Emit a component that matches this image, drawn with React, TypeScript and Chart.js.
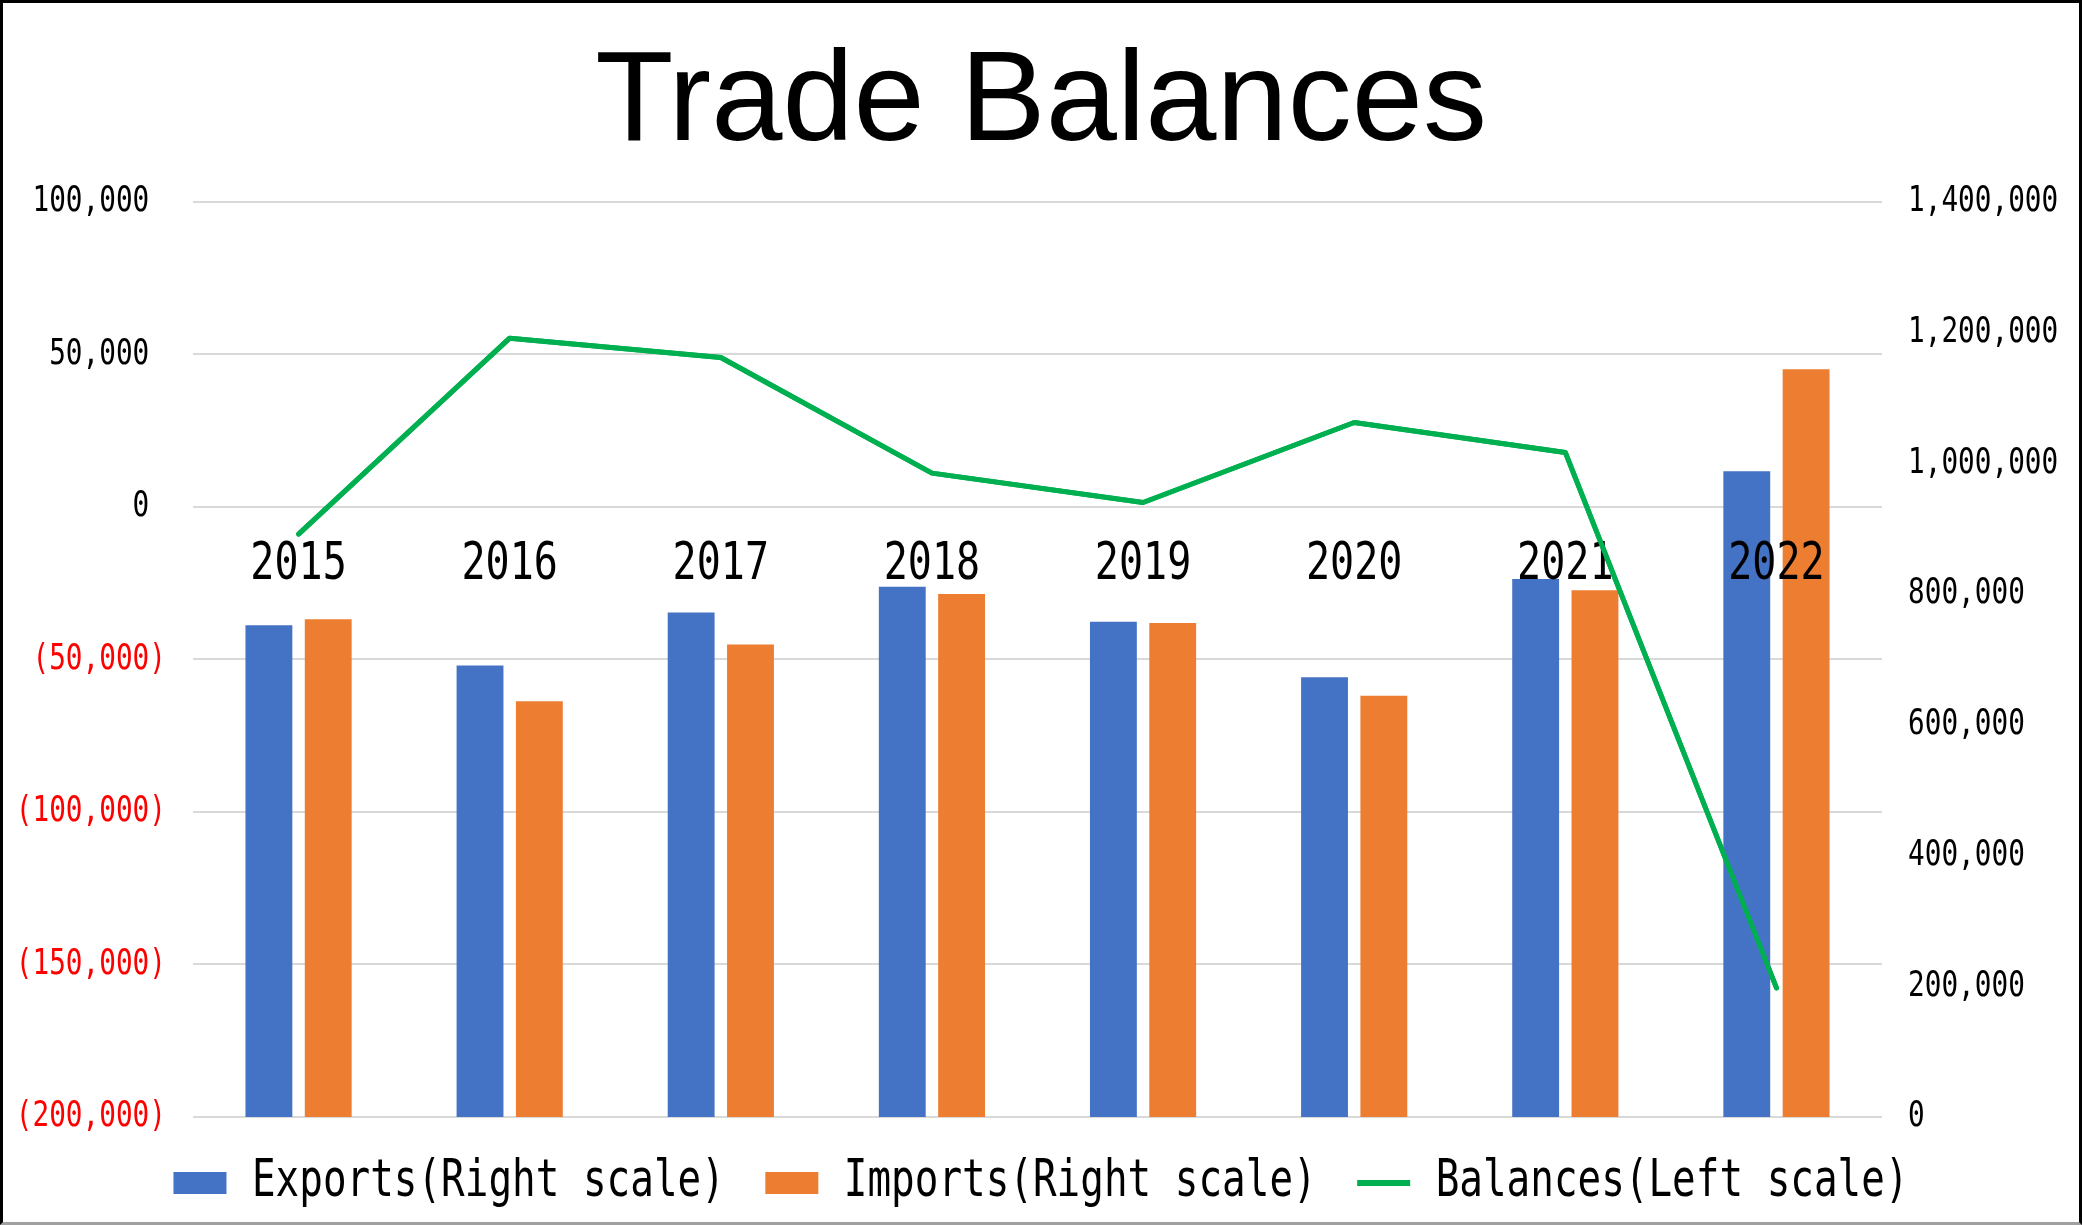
import React, { useEffect, useRef } from 'react';
import { Chart, registerables } from 'chart.js';

Chart.register(...registerables);

// ---- data ----
const categories = ['2015', '2016', '2017', '2018', '2019', '2020', '2021', '2022'];
const exportsValues = [752100, 690400, 771600, 810900, 757400, 672500, 822900, 987700];
const importsValues = [761300, 635700, 722700, 799700, 755400, 644400, 805600, 1143700];
const balanceValues = [-8950, 55240, 48890, 11010, 1380, 27600, 17800, -157700];

const seriesLabels = ['Exports(Right scale)', 'Imports(Right scale)', 'Balances(Left scale)'];
const titleText = 'Trade Balances';

const leftMin = -200000;
const leftMax = 100000;
const leftStep = 50000;
const rightMin = 0;
const rightMax = 1400000;
const rightStep = 200000;

// ---- styles ----
const W = 2082;
const H = 1225;
const MONO_NAME = 'DejaVu Sans Mono';
const MONO = `'${MONO_NAME}', monospace`;
const NARROW_SCALE = 0.77;
const BLUE = '#4472C4';
const ORANGE = '#ED7D31';
const GREEN = '#00B050';
const GRID = '#D9D9D9';

const fmt = (v: number) => Math.abs(v).toLocaleString('en-US');

// Render the monospace chart text horizontally condensed (like the narrow gothic font of the original).
function condenseMonoText(ctx: any) {
  const proto: any = CanvasRenderingContext2D.prototype;
  ctx.fillText = function (text: string, x: number, y: number, maxWidth?: number) {
    if (String(this.font).indexOf(MONO_NAME) >= 0) {
      this.save();
      this.translate(x, y);
      this.scale(NARROW_SCALE, 1);
      proto.fillText.call(this, text, 0, 0);
      this.restore();
    } else if (maxWidth !== undefined) {
      proto.fillText.call(this, text, x, y, maxWidth);
    } else {
      proto.fillText.call(this, text, x, y);
    }
  };
  ctx.measureText = function (text: string) {
    const m = proto.measureText.call(this, text);
    if (String(this.font).indexOf(MONO_NAME) >= 0) {
      return {
        width: m.width * NARROW_SCALE,
        actualBoundingBoxAscent: m.actualBoundingBoxAscent,
        actualBoundingBoxDescent: m.actualBoundingBoxDescent,
        actualBoundingBoxLeft: m.actualBoundingBoxLeft * NARROW_SCALE,
        actualBoundingBoxRight: m.actualBoundingBoxRight * NARROW_SCALE,
        fontBoundingBoxAscent: m.fontBoundingBoxAscent,
        fontBoundingBoxDescent: m.fontBoundingBoxDescent,
      };
    }
    return m;
  };
}

const lineOnTop = {
  id: 'lineOnTop',
  afterDraw(chart: any) {
    const meta = chart.getDatasetMeta(2);
    if (!meta || !meta.controller) return;
    const ctx = chart.ctx;
    ctx.save();
    meta.controller.draw();
    ctx.restore();
  },
};

export default function App() {
  const ref = useRef<HTMLCanvasElement | null>(null);

  useEffect(() => {
    if (!ref.current) return;
    const ctx = ref.current.getContext('2d');
    condenseMonoText(ctx);
    const chart = new Chart(ref.current, {
      type: 'bar',
      data: {
        labels: categories,
        datasets: [
          {
            type: 'bar',
            label: seriesLabels[0],
            data: exportsValues,
            backgroundColor: BLUE,
            borderWidth: 0,
            yAxisID: 'y1',
            categoryPercentage: 0.562,
            barPercentage: 0.79,
          },
          {
            type: 'bar',
            label: seriesLabels[1],
            data: importsValues,
            backgroundColor: ORANGE,
            borderWidth: 0,
            yAxisID: 'y1',
            categoryPercentage: 0.562,
            barPercentage: 0.79,
          },
          {
            type: 'line',
            label: seriesLabels[2],
            data: balanceValues,
            borderColor: GREEN,
            backgroundColor: GREEN,
            borderWidth: 5,
            borderCapStyle: 'round',
            borderJoinStyle: 'round',
            pointRadius: 0,
            pointHoverRadius: 0,
            tension: 0,
            yAxisID: 'y',
          } as any,
        ],
      },
      options: {
        responsive: false,
        animation: false,
        devicePixelRatio: 1,
        layout: { padding: { left: 0, right: 0, top: 0, bottom: 6.5 } },
        plugins: {
          tooltip: { enabled: false },
          title: {
            display: true,
            text: titleText,
            color: '#000',
            font: { family: "'Liberation Sans', Arial, sans-serif", size: 128, weight: 'normal' },
            padding: { top: 28, bottom: 20 },
          },
          legend: {
            display: true,
            position: 'bottom',
            labels: {
              color: '#000',
              font: { family: MONO, size: 51 },
              usePointStyle: true,
              pointStyleWidth: 53,
              boxWidth: 53,
              boxHeight: 22,
              padding: 40.5,
              generateLabels: (chart: any) => {
                const items = Chart.defaults.plugins.legend.labels.generateLabels(chart);
                return items.map((it: any) => {
                  if (it.datasetIndex === 2) {
                    return { ...it, pointStyle: 'line', lineWidth: 6, strokeStyle: GREEN, fillStyle: GREEN };
                  }
                  return { ...it, pointStyle: 'rect', lineWidth: 0 };
                });
              },
            },
          },
        },
        scales: {
          x: {
            type: 'category',
            position: { y: 0 } as any,
            offset: true,
            grid: { display: false, drawTicks: false },
            border: { display: false },
            ticks: {
              z: 1,
              color: '#000',
              font: { family: MONO, size: 52 },
              padding: 28,
              maxRotation: 0,
              autoSkip: false,
            },
          },
          y: {
            type: 'linear',
            position: 'left',
            min: leftMin,
            max: leftMax,
            grid: { color: GRID, lineWidth: 2, drawTicks: false },
            border: { display: false },
            afterFit: (scale: any) => {
              scale.width = 193;
            },
            ticks: {
              stepSize: leftStep,
              padding: 27,
              font: { family: MONO, size: 36 },
              color: (c: any) => (c.tick && c.tick.value < 0 ? '#FF0000' : '#000'),
              callback: (v: any) => (Number(v) < 0 ? `(${fmt(Number(v))})` : `${fmt(Number(v))} `),
            },
          },
          y1: {
            type: 'linear',
            position: 'right',
            min: rightMin,
            max: rightMax,
            grid: { display: false, drawTicks: false },
            border: { display: false },
            afterFit: (scale: any) => {
              scale.width = 200;
            },
            ticks: {
              stepSize: rightStep,
              padding: 26,
              font: { family: MONO, size: 36 },
              color: '#000',
              callback: (v: any) => fmt(Number(v)),
            },
          },
        },
      },
      plugins: [lineOnTop],
    } as any);
    return () => chart.destroy();
  }, []);

  return (
    <div style={{ position: 'fixed', left: 0, top: 0, width: W, height: H, background: '#fff' }}>
      <canvas ref={ref} width={W} height={H} style={{ display: 'block', width: W, height: H }} />
      <div
        style={{
          position: 'absolute',
          left: 0,
          top: 0,
          width: W,
          height: H,
          boxSizing: 'border-box',
          borderTop: '3px solid #000',
          borderLeft: '3px solid #000',
          borderRight: '3px solid #000',
          borderBottom: '3px solid #A0A0A0',
          pointerEvents: 'none',
        }}
      />
    </div>
  );
}
